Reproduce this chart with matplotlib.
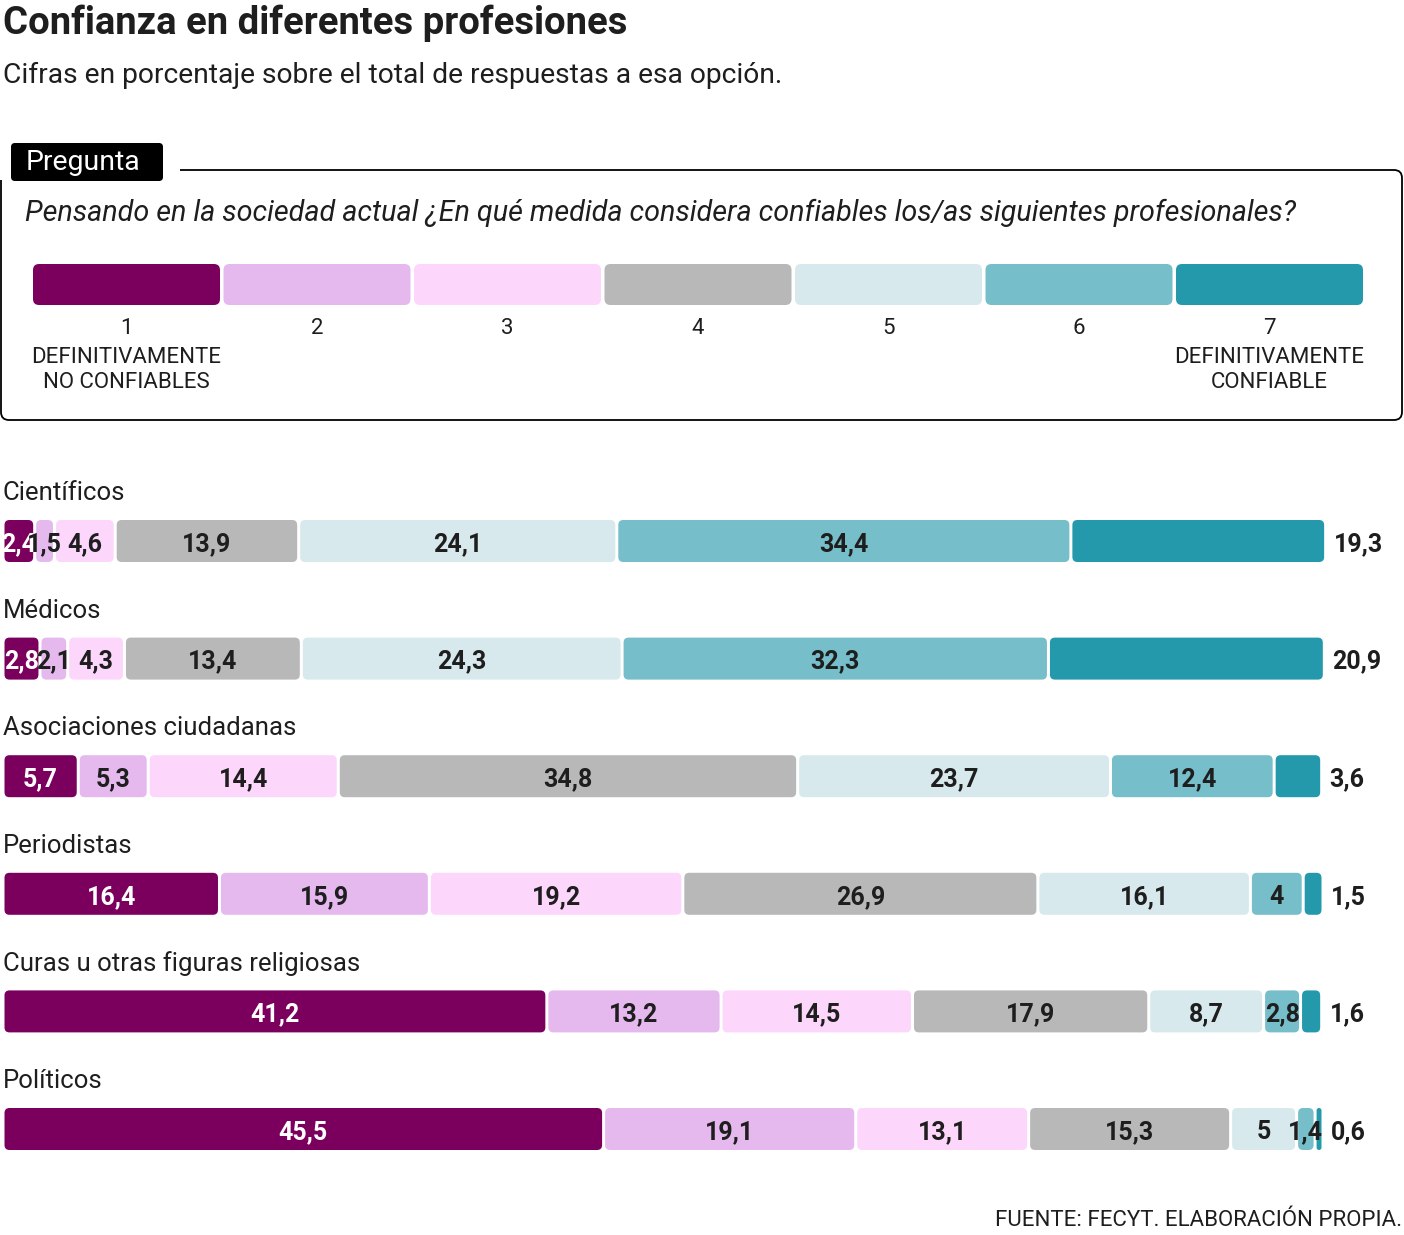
import matplotlib.pyplot as plt
from matplotlib.patches import FancyBboxPatch, Rectangle

plt.rcParams['font.family'] = ['Roboto', 'DejaVu Sans']

# Datos
categorias = ['Científicos', 'Médicos', 'Asociaciones ciudadanas', 'Periodistas',
              'Curas u otras figuras religiosas', 'Políticos']
cientificos = [2.4, 1.5, 4.6, 13.9, 24.1, 34.4, 19.3]
medicos = [2.8, 2.1, 4.3, 13.4, 24.3, 32.3, 20.9]
asociaciones = [5.7, 5.3, 14.4, 34.8, 23.7, 12.4, 3.6]
periodistas = [16.4, 15.9, 19.2, 26.9, 16.1, 4, 1.5]
curas = [41.2, 13.2, 14.5, 17.9, 8.7, 2.8, 1.6]
politicos = [45.5, 19.1, 13.1, 15.3, 5, 1.4, 0.6]
series = [cientificos, medicos, asociaciones, periodistas, curas, politicos]

escala = ['1', '2', '3', '4', '5', '6', '7']
escala_txt = ['DEFINITIVAMENTE\nNO CONFIABLES', '', '', '', '', '', 'DEFINITIVAMENTE\nCONFIABLE']
colores = ['#7b005e', '#e5b9ee', '#fdd6fc', '#b8b8b8', '#d7e9ed', '#76bec9', '#2399ab']
txt_blanco = [True, False, False, False, False, False, False]

W, H = 1404, 1235
TXT = '#1e1e1e'

fig = plt.figure(figsize=(W / 100, H / 100), dpi=100)

# capa en pixeles para textos y la caja de la pregunta
ax = fig.add_axes([0, 0, 1, 1])
ax.set_xlim(0, W)
ax.set_ylim(H, 0)
ax.axis('off')

ax.text(3, 23, 'Confianza en diferentes profesiones', fontsize=27.5, fontweight='bold',
        color=TXT, va='center', ha='left')
ax.text(3, 75, 'Cifras en porcentaje sobre el total de respuestas a esa opción.',
        fontsize=20.3, color=TXT, va='center', ha='left')

# caja de la pregunta
caja = FancyBboxPatch((1, 170), W - 3, 250, boxstyle='round,pad=0,rounding_size=8',
                      fc='white', ec='black', lw=1.3)
ax.add_patch(caja)
ax.add_patch(Rectangle((-2, 160), 182, 20, fc='white', ec='none', zorder=2))
ax.add_patch(FancyBboxPatch((11, 143), 152, 38, boxstyle='round,pad=0,rounding_size=4',
                            fc='black', ec='none', zorder=3))
ax.text(26, 163, 'Pregunta', fontsize=20.5, color='white',
        va='center', ha='left', zorder=4)
ax.text(25, 213, 'Pensando en la sociedad actual ¿En qué medida considera confiables los/as siguientes profesionales?',
        fontsize=20.7, style='italic', color=TXT, va='center', ha='left')

for i, (num, lab) in enumerate(zip(escala, escala_txt)):
    x0 = 33 + i * 190.5
    ax.add_patch(FancyBboxPatch((x0, 264), 187, 41, boxstyle='round,pad=0,rounding_size=6',
                                fc=colores[i], ec='none'))
    ax.text(x0 + 93.5, 328, num, fontsize=16, color=TXT, ha='center', va='center')
    if lab:
        ax.text(x0 + 93.5, 370, lab, fontsize=16, color=TXT, ha='center', va='center',
                linespacing=1.25)

ax.text(W - 2, 1220, 'FUENTE: FECYT. ELABORACIÓN PROPIA.', fontsize=16, color=TXT,
        ha='right', va='center')

# barras apiladas en escala de porcentaje
bx = fig.add_axes([3 / W, 0, 1320 / W, 1])
bx.set_xlim(0, 100)
bx.set_ylim(H, 0)
bx.axis('off')
aspect = 1320 / 100  # px de y por unidad de x
gap = 3 / aspect
radio = 5 / aspect
alto = 42

for r, (cat, vals) in enumerate(zip(categorias, series)):
    yc = 541 + r * 117.6
    bx.text(0, yc - 48, cat, fontsize=18.5, color=TXT, ha='left', va='center')
    acum = 0
    for j, v in enumerate(vals):
        w = v - gap
        rr = min(radio, w / 2)
        bx.add_patch(FancyBboxPatch((acum + gap / 2, yc - alto / 2), w, alto,
                                    boxstyle=f'round,pad=0,rounding_size={rr}',
                                    mutation_aspect=aspect, fc=colores[j], ec='none',
                                    clip_on=False))
        etiqueta = f'{v:g}'.replace('.', ',')
        if j == len(vals) - 1:
            bx.text(acum + v + 0.6, yc + 3, etiqueta, fontsize=18, fontweight='bold',
                    color=TXT, ha='left', va='center', clip_on=False)
        else:
            bx.text(acum + v / 2, yc + 3, etiqueta, fontsize=18, fontweight='bold',
                    color='white' if txt_blanco[j] else TXT, ha='center', va='center')
        acum += v

fig.savefig('out.png', dpi=100)
